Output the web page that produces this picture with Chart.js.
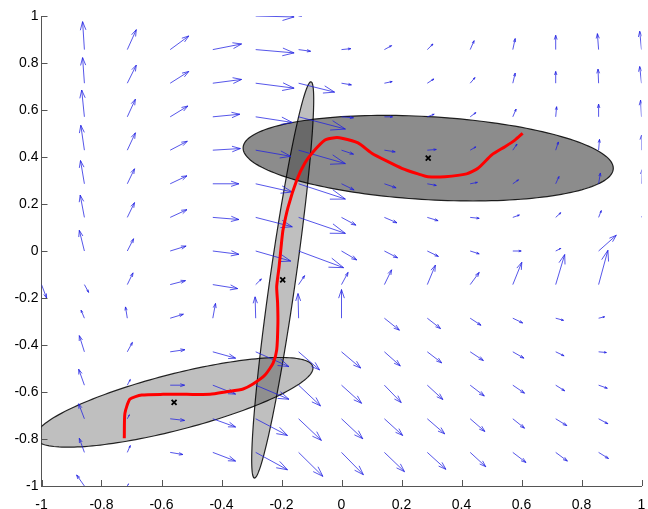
<!DOCTYPE html>
<html>
<head>
<meta charset="utf-8">
<script src="https://cdn.jsdelivr.net/npm/chart.js@4.4.0/dist/chart.umd.min.js"></script>
<style>
body { margin: 0; background: #fff; }
#wrap { width: 648px; height: 509px; }
</style>
</head>
<body>
<div id="wrap"><canvas id="myChart" width="648" height="509"></canvas></div>
<script>
// quiver grid (rows listed from top y=1 down to y=-1)
const gridX = [-1, -0.857, -0.714, -0.571, -0.429, -0.286, -0.143, 0, 0.143, 0.286, 0.429, 0.571, 0.714, 0.857, 1];
const gridY = [1, 0.857, 0.714, 0.571, 0.429, 0.286, 0.143, 0, -0.143, -0.286, -0.429, -0.571, -0.714, -0.857, -1];

const arrowU = [
    [0, 0, 0, 0, 0, 0.128, 0.010, 0, 0, 0, 0, 0, 0, 0, 0],
    [0, -0.006, 0.030, 0.062, 0.096, 0.128, 0.040, 0.031, 0.024, 0.019, 0.013, 0.008, 0, -0.004, -0.006],
    [0, -0.006, 0.030, 0.062, 0.096, 0.128, 0.120, 0.033, 0.026, 0.022, 0.016, 0.008, 0, -0.002, -0.006],
    [0, -0.009, 0.027, 0.059, 0.090, 0.122, 0.156, 0.040, 0.027, 0.023, 0.019, 0.011, 0.003, 0, -0.003],
    [0, -0.012, 0.027, 0.057, 0.092, 0.117, 0.156, 0.040, 0.036, 0.030, 0.019, 0.014, 0.009, 0.003, 0],
    [0, -0.013, 0.024, 0.056, 0.087, 0.122, 0.156, 0.042, 0.039, 0.030, 0.024, 0.019, 0.011, 0.006, 0.002],
    [0, -0.014, 0.024, 0.056, 0.087, 0.122, 0.156, 0.048, 0.042, 0.036, 0.030, 0.022, 0.017, 0.009, 0],
    [0, -0.017, 0.021, 0.053, 0.087, 0.117, 0.150, 0.051, 0.044, 0.037, 0.030, 0.028, 0.017, 0.059, 0],
    [0.017, 0.014, 0.019, 0.051, 0.083, 0.019, 0.020, 0.022, 0.024, 0.027, 0.030, 0.030, 0.030, 0.031, 0],
    [0, -0.011, -0.006, 0.044, 0.009, -0.002, -0.002, 0, 0.050, 0.044, 0.036, 0.033, 0.026, 0.020, 0],
    [0, -0.017, 0.017, 0.049, 0.076, 0.111, 0.070, 0.064, 0.053, 0.048, 0.044, 0.037, 0.028, 0.026, 0],
    [0, -0.019, 0.010, 0.048, 0.076, 0.111, 0.073, 0.067, 0.056, 0.052, 0.047, 0.039, 0.030, 0.029, 0],
    [0, -0.019, 0.007, 0.048, 0.076, 0.106, 0.076, 0.071, 0.061, 0.058, 0.049, 0.039, 0.037, 0.031, 0],
    [0, -0.017, 0.010, 0.042, 0.076, 0.106, 0.081, 0.073, 0.067, 0.062, 0.052, 0.044, 0.039, 0.033, 0],
    [0, -0.026, 0.004, 0, 0, 0, 0, 0, 0, 0, 0, 0, 0, 0, 0]
];
const arrowV = [
    [0, 0, 0, 0, 0, -0.004, 0, 0, 0, 0, 0, 0, 0, 0, 0],
    [0, 0.119, 0.085, 0.058, 0.024, -0.014, -0.007, 0.004, 0.017, 0.024, 0.038, 0.047, 0.061, 0.068, 0.078],
    [0, 0.109, 0.077, 0.050, 0.016, -0.021, -0.038, -0.007, 0.007, 0.018, 0.024, 0.043, 0.050, 0.060, 0.071],
    [0, 0.114, 0.075, 0.046, 0.011, -0.024, -0.052, -0.004, 0, 0.011, 0.018, 0.033, 0.043, 0.054, 0.071],
    [0, 0.106, 0.074, 0.038, 0.007, -0.026, -0.057, -0.017, -0.007, 0.003, 0.014, 0.026, 0.035, 0.046, 0.064],
    [0, 0.099, 0.064, 0.034, 0, -0.035, -0.065, -0.026, -0.017, -0.007, 0.006, 0.017, 0.031, 0.046, 0.060],
    [0, 0.095, 0.063, 0.033, -0.009, -0.040, -0.068, -0.033, -0.023, -0.014, -0.004, 0.010, 0.020, 0.029, 0.004],
    [0, 0.088, 0.052, 0.021, -0.014, -0.043, -0.071, -0.038, -0.029, -0.023, -0.012, 0, 0.011, 0.067, 0],
    [-0.057, -0.033, 0.050, 0.017, -0.017, 0.024, 0.038, 0.052, 0.063, 0.083, 0.052, 0.095, 0.128, 0.146, 0],
    [0, 0.034, 0.048, 0.017, 0.063, 0.091, 0.105, 0.122, -0.051, -0.044, -0.030, -0.020, -0.009, 0.006, 0],
    [0, 0.069, 0.040, 0.009, -0.027, -0.063, -0.077, -0.069, -0.060, -0.047, -0.037, -0.027, -0.017, -0.003, 0],
    [0, 0.068, 0.024, 0, -0.038, -0.060, -0.088, -0.077, -0.074, -0.061, -0.046, -0.034, -0.024, -0.013, 0],
    [0, 0.064, 0.017, -0.007, -0.035, -0.071, -0.092, -0.085, -0.071, -0.064, -0.054, -0.040, -0.029, -0.021, 0],
    [0, 0.060, 0.029, -0.009, -0.037, -0.074, -0.102, -0.095, -0.082, -0.072, -0.061, -0.043, -0.037, -0.026, 0],
    [0, 0.047, 0.009, 0, 0, 0, 0, 0, 0, 0, 0, 0, 0, 0, 0]
];

// red trajectory
const pathX = [-0.724, -0.722, -0.705, -0.666, -0.595, -0.516, -0.438, -0.383, -0.328, -0.295, -0.255, -0.228, -0.216, -0.212, -0.213, -0.216, -0.208, -0.199, -0.195, -0.178, -0.149, -0.122, -0.095, -0.055, -0.022, 0.001, 0.055, 0.101, 0.155, 0.201, 0.255, 0.288, 0.345, 0.417, 0.455, 0.501, 0.545, 0.578, 0.604];
const pathY = [-0.797, -0.691, -0.630, -0.613, -0.610, -0.610, -0.610, -0.599, -0.587, -0.566, -0.528, -0.477, -0.421, -0.306, -0.221, -0.152, -0.067, 0.047, 0.089, 0.187, 0.302, 0.374, 0.421, 0.472, 0.482, 0.480, 0.460, 0.416, 0.380, 0.352, 0.328, 0.316, 0.316, 0.328, 0.352, 0.409, 0.444, 0.472, 0.501];

// gaussians: centres and two conjugate half-axes
const centerX = [0.289, -0.196, -0.558];
const centerY = [0.395, -0.123, -0.644];
const halfAX = [0.617, 0.094, 0.463];
const halfAY = [-0.043, 0.843, 0.146];
const halfBX = [0, 0.043, 0];
const halfBY = [0.177, 0, 0.123];

const fieldPlugin = {
    id: 'field',
    beforeDatasetsDraw(chart) {
        const {ctx, chartArea, scales: {x, y}} = chart;
        ctx.save();
        ctx.beginPath();
        ctx.rect(chartArea.left, chartArea.top, chartArea.width, chartArea.height);
        ctx.clip();

        const fills = ['rgba(0,0,0,0.45)', 'rgba(0,0,0,0.25)', 'rgba(0,0,0,0.25)'];
        for (let k = 0; k < centerX.length; k++) {
            ctx.beginPath();
            for (let i = 0; i <= 180; i++) {
                const t = i / 180 * 2 * Math.PI;
                const px = x.getPixelForValue(centerX[k] + halfAX[k] * Math.cos(t) + halfBX[k] * Math.sin(t));
                const py = y.getPixelForValue(centerY[k] + halfAY[k] * Math.cos(t) + halfBY[k] * Math.sin(t));
                if (i === 0) ctx.moveTo(px, py); else ctx.lineTo(px, py);
            }
            ctx.closePath();
            ctx.fillStyle = fills[k];
            ctx.fill();
            ctx.strokeStyle = 'rgba(0,0,0,0.85)';
            ctx.lineWidth = 1.2;
            ctx.stroke();
        }

        // quiver arrows
        ctx.strokeStyle = 'rgba(30,30,225,0.75)';
        ctx.lineWidth = 1;
        for (let r = 0; r < gridY.length; r++) {
            for (let c = 0; c < gridX.length; c++) {
                const u = arrowU[r][c], v = arrowV[r][c];
                if (u === 0 && v === 0) continue;
                const x0 = x.getPixelForValue(gridX[c]);
                const y0 = y.getPixelForValue(gridY[r]);
                const x1 = x.getPixelForValue(gridX[c] + u);
                const y1 = y.getPixelForValue(gridY[r] + v);
                const dx = x1 - x0, dy = y1 - y0;
                const bx = x1 - 0.3 * dx, by = y1 - 0.3 * dy;
                const nx = -dy * 0.1, ny = dx * 0.1;
                ctx.beginPath();
                ctx.moveTo(x0, y0);
                ctx.lineTo(x1, y1);
                ctx.moveTo(bx + nx, by + ny);
                ctx.lineTo(x1, y1);
                ctx.lineTo(bx - nx, by - ny);
                ctx.stroke();
            }
        }
        ctx.restore();
    },
    afterDraw(chart) {
        // matlab style ticks pointing into the plot
        const {ctx, chartArea, scales: {x, y}} = chart;
        ctx.save();
        ctx.strokeStyle = '#555';
        ctx.lineWidth = 1;
        ctx.beginPath();
        x.ticks.forEach(t => {
            const px = Math.round(x.getPixelForValue(t.value)) + 0.5;
            ctx.moveTo(px, chartArea.bottom);
            ctx.lineTo(px, chartArea.bottom - 6);
        });
        y.ticks.forEach(t => {
            const py = Math.round(y.getPixelForValue(t.value)) + 0.5;
            ctx.moveTo(chartArea.left, py);
            ctx.lineTo(chartArea.left + 6, py);
        });
        ctx.stroke();
        ctx.restore();
    }
};

const tickFont = {family: 'Liberation Sans', size: 14};
const fmt = v => String(Number(v.toFixed(1)));

new Chart(document.getElementById('myChart').getContext('2d'), {
    type: 'scatter',
    data: {
        datasets: [{
            data: centerX.map((v, i) => ({x: v, y: centerY[i]})),
            pointStyle: 'crossRot',
            pointRadius: 3.5,
            borderColor: '#000',
            borderWidth: 1.8,
            showLine: false
        }, {
            data: pathX.map((v, i) => ({x: v, y: pathY[i]})),
            showLine: true,
            borderColor: 'rgb(255,0,0)',
            borderWidth: 3,
            pointRadius: 0,
            tension: 0.2,
            fill: false
        }]
    },
    options: {
        responsive: false,
        animation: false,
        events: [],
        layout: {padding: {top: 16, right: 6.5, left: 0, bottom: 0}},
        plugins: {legend: {display: false}, tooltip: {enabled: false}},
        scales: {
            x: {
                min: -1, max: 1,
                ticks: {stepSize: 0.2, color: '#000', font: tickFont, padding: 11, maxRotation: 0, callback: fmt},
                grid: {drawOnChartArea: false, drawTicks: false},
                border: {display: true, color: '#555', width: 1},
                afterFit: s => { s.height = 23; s.paddingLeft = 0; s.paddingRight = 0; }
            },
            y: {
                min: -1, max: 1,
                ticks: {stepSize: 0.2, color: '#000', font: tickFont, padding: 3, callback: fmt},
                grid: {drawOnChartArea: false, drawTicks: false},
                border: {display: true, color: '#555', width: 1},
                afterFit: s => { s.width = 41.5; s.paddingTop = 0; s.paddingBottom = 0; }
            }
        }
    },
    plugins: [fieldPlugin]
});
</script>
</body>
</html>
